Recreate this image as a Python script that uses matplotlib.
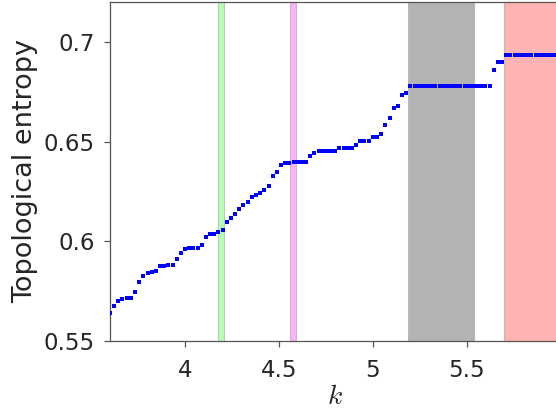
import numpy as np
import matplotlib
matplotlib.use("Agg")
import matplotlib.pyplot as plt

plt.rcParams['mathtext.fontset'] = 'cm'

# parameter grid and entropy estimates
k = np.linspace(3.6, 6.0, 109)
entropy = [
    0.5640, 0.5676, 0.5701, 0.5711, 0.5716, 0.5717, 0.5747, 0.5797, 0.5824, 0.5839,
    0.5844, 0.5853, 0.5875, 0.5878, 0.5880, 0.5881, 0.5911, 0.5941, 0.5961, 0.5966,
    0.5966, 0.5966, 0.5980, 0.6022, 0.6037, 0.6037, 0.6048, 0.6058, 0.6095, 0.6117,
    0.6135, 0.6164, 0.6184, 0.6197, 0.6224, 0.6234, 0.6244, 0.6259, 0.6276, 0.6329,
    0.6346, 0.6381, 0.6391, 0.6391, 0.6399, 0.6399, 0.6399, 0.6399, 0.6426, 0.6441,
    0.6454, 0.6454, 0.6454, 0.6454, 0.6454, 0.6468, 0.6468, 0.6468, 0.6468, 0.6481,
    0.6505, 0.6505, 0.6505, 0.6522, 0.6522, 0.6537, 0.6583, 0.6618, 0.6667, 0.6677,
    0.6734, 0.6745,
] + [0.6779] * 20 + [0.6858, 0.6898, 0.6898] + [0.6936] * 14

# shaded windows in k
bands = [(4.177, 4.206), (4.560, 4.590), (5.190, 5.540), (5.700, 6.000)]
band_colors = ['#b3ffb3', '#ffb3ff', '#b3b3b3', '#ffb3b3']

fig = plt.figure(figsize=(5.56, 4.15), dpi=100)
ax = fig.add_axes([0.1978, 0.1783, 0.8104, 0.8169])

for (a, b), c in zip(bands, band_colors):
    ax.axvspan(a, b, facecolor=c, edgecolor=(0.6, 0.6, 0.6, 0.5), linewidth=0.8, zorder=1)

ax.plot(k, entropy, 's', color='blue', markersize=2.3, markeredgewidth=0, zorder=3)

ax.set_xlim(3.6, 6.0)
ax.set_ylim(0.55, 0.72)
ax.set_xticks([4, 4.5, 5, 5.5])
ax.set_xticklabels(['4', '4.5', '5', '5.5'])
ax.set_yticks([0.55, 0.6, 0.65, 0.7])
ax.set_yticklabels(['0.55', '0.6', '0.65', '0.7'])

for sp in ax.spines.values():
    sp.set_color('#555555')
    sp.set_linewidth(0.9)
ax.tick_params(direction='out', length=4, width=0.9, color='#555555',
               labelsize=16.5, labelcolor='#262626')
ax.tick_params(axis='x', pad=9)
ax.tick_params(axis='y', pad=7)

ax.set_xlabel(r'$k$', fontsize=20, color='#262626', labelpad=0)
ax.set_ylabel('Topological entropy', fontsize=19.5, color='#262626', labelpad=4)

fig.savefig('out.png', dpi=100)
